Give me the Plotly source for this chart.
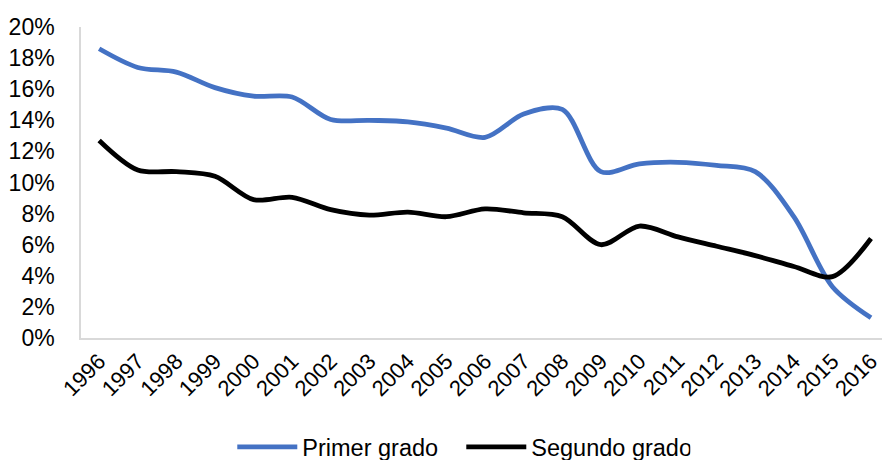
import plotly.graph_objects as go

# Annual rates by year (%)
years = [str(y) for y in range(1996, 2017)]
primer_grado = [18.6, 17.4, 17.1, 16.1, 15.55, 15.5, 14.05, 14.0, 13.9, 13.5, 12.9,
                14.4, 14.7, 10.7, 11.2, 11.3, 11.1, 10.7, 7.8, 3.3, 1.3]
segundo_grado = [12.7, 10.8, 10.7, 10.4, 8.9, 9.05, 8.25, 7.9, 8.1, 7.8, 8.3,
                 8.05, 7.8, 6.0, 7.2, 6.5, 5.9, 5.3, 4.6, 3.95, 6.4]
y_ticks = list(range(0, 21, 2))

FONT = "Liberation Sans, Arial, sans-serif"

fig = go.Figure()
fig.add_trace(go.Scatter(
    x=years, y=primer_grado, name="Primer grado", mode="lines",
    line=dict(color="#4472C4", width=4.8, shape="spline", smoothing=0.9),
))
fig.add_trace(go.Scatter(
    x=years, y=segundo_grado, name="Segundo grado", mode="lines",
    line=dict(color="#000000", width=4.8, shape="spline", smoothing=0.9),
))

fig.update_layout(
    width=882, height=460,
    margin=dict(l=81, r=0, t=27, b=122, autoexpand=False),
    paper_bgcolor="white", plot_bgcolor="white",
    font=dict(family=FONT, size=23, color="#000000"),
    showlegend=True,
    legend=dict(
        orientation="h", xref="container", x=0.523, xanchor="center",
        yref="container", y=0.028, yanchor="middle",
        font=dict(size=23.5), itemwidth=60, tracegroupgap=0,
        entrywidth=154, entrywidthmode="pixels",
        bgcolor="rgba(0,0,0,0)",
    ),
    xaxis=dict(
        type="category", range=[-0.47, 20.285], automargin=False,
        showgrid=False, zeroline=False,
        showline=True, linecolor="#d9d9d9", linewidth=1.5,
        ticks="", tickangle=-45, tickfont=dict(size=22),
    ),
    yaxis=dict(
        range=[0, 20], tickvals=y_ticks, automargin=False,
        ticktext=[f"{v}%" for v in y_ticks],
        showgrid=False, zeroline=False,
        showline=True, linecolor="#d9d9d9", linewidth=1.5,
        ticks="", ticklabelstandoff=20,
    ),
)

fig.write_html("out.html")
